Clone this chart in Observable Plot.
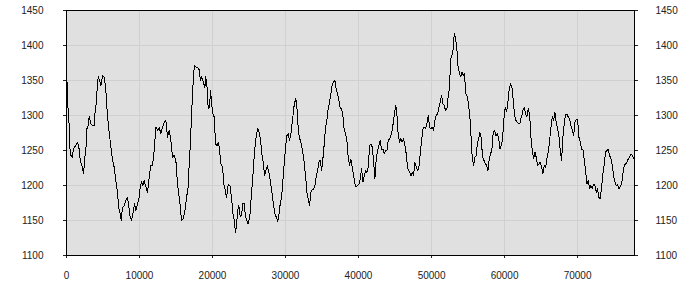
<!DOCTYPE html>
<html><head><meta charset="utf-8">
<script src="https://cdn.jsdelivr.net/npm/d3@7"></script>
<script src="https://cdn.jsdelivr.net/npm/@observablehq/plot@0.6"></script>
<style>body{margin:0;background:#fff}</style>
</head><body><div id="chart"></div>
<script>
const positions = [0,50,130,300,450,507,781,963,1283,1511,1694,1877,2105,2333,2516,2698,2790,2973,3110,3338,3566,3794,3931,4114,4251,4388,4571,4708,4936,5164,5393,5621,5849,6077,6306,6534,6762,6991,7128,7310,7493,7676,7904,8132,8360,8543,8726,8908,9091,9319,9502,9730,9959,10096,10278,10461,10643,10872,11100,11328,11557,11785,12013,12242,12470,12698,12926,13155,13383,13611,13840,14068,14296,14525,14753,14981,15209,15438,
15530,15759,15987,16215,16444,16672,16809,16991,17128,17311,17448,17585,17813,18133,18361,18498,18726,18955,19046,19229,19411,19594,19731,19868,20050,20233,20416,20644,20827,20964,21146,21375,21557,21740,21923,22151,22379,22608,22790,22973,23156,23293,23429,23612,23795,23977,24160,24343,24525,24708,24891,25119,25302,25484,25667,25849,26032,26215,26397,26580,26763,26945,27128,27311,27493,27676,27859,28041,28224,28406,28589,28772,28909,29091,29274,29457,29639,29822,30005,30187,30370,30553,30735,30918,31101,
31147,31376,31513,31695,31878,32106,32289,32517,32745,32928,33111,33293,33476,33659,33841,34024,34207,34389,34572,34754,34937,35120,35302,35485,35668,35850,36033,36216,36398,36581,36763,36946,37129,37311,37494,37677,37859,38042,38225,38407,38590,38773,38955,39138,39321,39503,39686,39868,40051,40234,40416,40599,40782,40964,41147,41330,41512,41695,41877,42060,42243,42425,42608,42791,42973,43156,43339,43521,43704,43886,44069,44252,44434,44617,44800,44982,45119,45256,45439,45622,45804,45987,46170,46352,46535,46718,
46764,46993,47175,47358,47541,47723,47906,48088,48271,48454,48636,48819,49002,49184,49367,49550,49732,49915,50097,50280,50463,50645,50828,51011,51193,51376,51559,51741,51924,52107,52289,52472,52609,52791,52974,53111,53294,53476,53613,53796,53979,54161,54344,54527,54663,54846,55029,55211,55348,55485,55622,55759,55942,56125,56262,56444,56627,56810,56992,57175,57358,57540,57723,57906,58088,58271,58453,58636,58819,59001,59184,59367,59549,59732,59915,60097,60280,60463,60645,60828,61010,61193,61376,61558,61741,61924,62106,62289,
62335,62517,62700,62883,63065,63248,63430,63613,63796,63978,64161,64344,64526,64709,64892,65074,65257,65440,65622,65805,65987,66170,66353,66535,66718,66901,67083,67266,67449,67631,67814,67996,68179,68362,68544,68727,68910,69092,69275,69458,69640,69823,70006,70188,70371,70553,70736,70919,71101,71284,71467,71649,71832,72015,72197,72380,72563,72745,72928,73110,73293,73476,73658,73841,74024,74206,74389,74571,74754,74937,75119,75302,75485,75667,75850,76033,76215,76398,76580,76763,76946,77128,77311,77493,77676];
const values = [1330,1357,1320,1300,1262,1245,1240,1253,1257,1262,1255,1236,1229,1217,1240,1257,1281,1286,1298,1288,1286,1286,1307,1321,1350,1355,1348,1343,1357,1355,1336,1298,1276,1255,1236,1226,1207,1190,1169,1162,1150,1169,1171,1179,1183,1169,1155,1150,1160,1174,1164,1174,1183,1198,1205,1200,1207,1198,1190,1212,1229,1229,1250,1283,1279,1283,1274,1283,1290,1293,1269,1279,1264,1240,1243,1236,1202,1183,
1175,1150,1152,1164,1183,1198,1231,1264,1302,1340,1364,1371,1369,1367,1350,1355,1348,1340,1355,1345,1310,1312,1336,1317,1302,1298,1259,1257,1262,1250,1231,1226,1202,1193,1183,1202,1200,1183,1160,1150,1133,1143,1164,1171,1155,1157,1174,1174,1155,1150,1145,1157,1183,1207,1236,1259,1274,1281,1276,1264,1245,1233,1214,1221,1228,1221,1210,1198,1183,1169,1157,1155,1148,1157,1174,1183,1207,1231,1255,1271,1274,1264,1274,1290,1307,
1312,1324,1319,1288,1269,1262,1252,1236,1214,1190,1181,1171,1190,1195,1195,1200,1212,1221,1233,1236,1221,1238,1259,1283,1293,1310,1319,1331,1345,1348,1350,1338,1331,1321,1310,1310,1300,1279,1274,1264,1240,1229,1238,1226,1214,1202,1198,1200,1202,1209,1224,1205,1214,1221,1219,1226,1257,1259,1255,1236,1209,1238,1250,1257,1264,1252,1252,1245,1250,1250,1264,1267,1271,1279,1293,1307,1314,1302,1271,1262,1267,1262,1267,1257,1245,1226,
1224,1219,1214,1219,1214,1233,1226,1221,1226,1245,1264,1281,1283,1281,1288,1300,1283,1281,1283,1279,1293,1300,1302,1312,1319,1329,1317,1314,1307,1310,1329,1340,1381,1386,1395,1417,1410,1395,1371,1362,1355,1362,1357,1360,1331,1329,1319,1302,1286,1252,1236,1229,1240,1243,1259,1267,1276,1267,1240,1236,1231,1229,1221,1238,1245,1252,1276,1279,1271,1274,1269,1252,1257,1267,1295,1312,1305,1319,1338,1345,1340,1321,1300,1293,1290,1288,1288,1298,
1298,1307,1312,1302,1298,1310,1302,1269,1250,1238,1248,1240,1229,1231,1233,1226,1217,1229,1226,1238,1248,1264,1283,1298,1293,1305,1290,1281,1271,1250,1236,1269,1288,1302,1302,1298,1295,1286,1279,1271,1290,1295,1295,1269,1262,1252,1252,1236,1221,1202,1207,1195,1200,1195,1202,1200,1190,1195,1183,1181,1198,1217,1231,1248,1250,1252,1243,1238,1229,1214,1205,1200,1202,1195,1198,1202,1217,1229,1231,1233,1238,1240,1245,1243,1238];
const xTicks = [0,10000,20000,30000,40000,50000,60000,70000];
const yTicks = [1100,1150,1200,1250,1300,1350,1400,1450];
const data = positions.map((x, i) => ({x, y: values[i]}));
const fmt = d => String(d);
const chart = Plot.plot({
  width: 700, height: 300,
  marginLeft: 66, marginRight: 66, marginTop: 10, marginBottom: 45,
  style: {fontFamily: "'Liberation Sans', Arial, sans-serif", fontSize: "10px", color: "#222", background: "#fff"},
  x: {domain: [0, 77800]},
  y: {domain: [1100, 1450]},
  marks: [
    Plot.frame({fill: "#e0e0e0"}),
    Plot.gridX(xTicks, {stroke: "#d0d0d0", strokeOpacity: 1}),
    Plot.gridY(yTicks, {stroke: "#d0d0d0", strokeOpacity: 1}),
    Plot.line(data, {x: "x", y: "y", stroke: "#000", strokeWidth: 1, shapeRendering: "crispEdges"}),
    Plot.axisX({ticks: xTicks, tickSize: 3, tickPadding: 13, tickFormat: fmt, label: null}),
    Plot.axisY({ticks: yTicks, anchor: "left", tickSize: 3, tickPadding: 20, tickFormat: fmt, label: null}),
    Plot.axisY({ticks: yTicks, anchor: "right", tickSize: 3, tickPadding: 18, tickFormat: fmt, label: null}),
    Plot.frame({stroke: "#000"})
  ]
});
document.getElementById("chart").append(chart);
</script>
</body></html>
